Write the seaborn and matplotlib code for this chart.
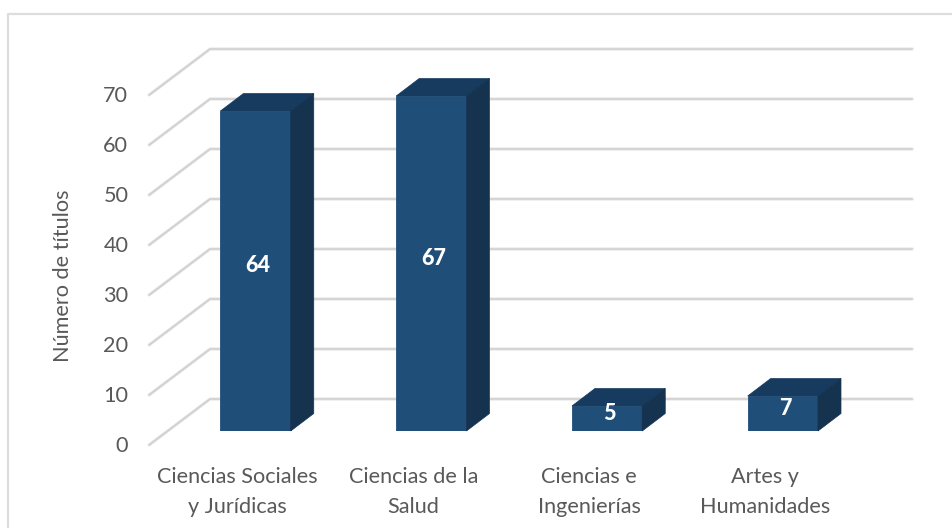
import numpy as np
import pandas as pd
import matplotlib
matplotlib.use('Agg')
import matplotlib.pyplot as plt
from matplotlib.lines import Line2D
from matplotlib.patches import Polygon
import seaborn as sns

categories = ['Ciencias Sociales\ny Jurídicas', 'Ciencias de la\nSalud', 'Ciencias e\nIngenierías', 'Artes y\nHumanidades']
titulos = [64, 67, 5, 7]
yticks = [0, 10, 20, 30, 40, 50, 60, 70]

sns.set_theme(style='white')
plt.rcParams['font.family'] = ['Lato', 'DejaVu Sans']

W, H = 952, 528
fig = plt.figure(figsize=(W / 100, H / 100), dpi=100)
# axes placed in pixels so the 3d look of the original lines up
ax = fig.add_axes([167.7 / W, 1 - 431 / H, 703 / W, 350 / H])

df = pd.DataFrame({'area': categories, 'titulos': titulos})
front = '#1F4E79'
top = '#173A5F'
side = '#15324F'
text = '#595959'
fs = 15.6

sns.barplot(data=df, x='area', y='titulos', color=front, saturation=1, width=0.4, ax=ax,
            zorder=3, edgecolor=front, linewidth=0.6)

ax.set_xlim(-0.5, 3.5)
ax.set_ylim(0, 70)
sns.despine(ax=ax, left=True, bottom=True)
ax.patch.set_alpha(0)

# depth of the bars, in data units
dx, dy = 0.131, 3.5
# walls: front edge and back edge of the floor
x_front, x_back, x_end = -0.606, -0.259, 3.736
y_front, y_back = -2.8, 6.4

for t in yticks:
    xs = [x_front, x_back, x_end]
    ys = [t + y_front, t + y_back, t + y_back]
    ax.plot(xs, ys, color='#E3E3E3', lw=2.2, solid_capstyle='round', solid_joinstyle='round', clip_on=False, zorder=1)
    ax.plot(xs, ys, color='#CDCDCD', lw=0.9, solid_capstyle='round', solid_joinstyle='round', clip_on=False, zorder=1.5)
    ax.text(-0.724, t + y_front - 0.3, str(t), ha='right', va='center', fontsize=fs, color=text)

for bar, v in zip(ax.patches, titulos):
    x0 = bar.get_x()
    x1 = x0 + bar.get_width()
    ax.add_patch(Polygon([(x0, v), (x0 + dx, v + dy), (x1 + dx, v + dy), (x1, v)], closed=True,
                         facecolor=top, edgecolor=top, lw=0.5, clip_on=False, zorder=3))
    ax.add_patch(Polygon([(x1, 0), (x1 + dx, dy), (x1 + dx, v + dy), (x1, v)], closed=True,
                         facecolor=side, edgecolor=side, lw=0.5, clip_on=False, zorder=3))
    ax.text(x0 + bar.get_width() / 2 + 0.015, v / 2 + 1.0, str(v), ha='center', va='center',
            color='white', fontsize=fs, fontweight='black', zorder=4)

ax.set_yticks([])
ax.set_xlabel('')
ax.set_ylabel('')
ax.tick_params(axis='x', length=0, pad=26, labelsize=fs, labelcolor=text)
# labels sit on the front edge of the floor, so a bit left of the bars
ax.set_xticks(np.arange(4) - 0.102)
ax.set_xticklabels(categories, linespacing=1.6)
fig.text(63 / W, 1 - 276 / H, 'Número de títulos', rotation=90, ha='center', va='center', fontsize=fs, color=text)

# frame only shows on the top and left in the original crop
fig.add_artist(Line2D([8 / W, 8 / W, 1], [0, 1 - 13.5 / H, 1 - 13.5 / H], transform=fig.transFigure,
                      color='#DDDDDD', lw=1.6))

fig.savefig('out.png', dpi=100, facecolor='white')
